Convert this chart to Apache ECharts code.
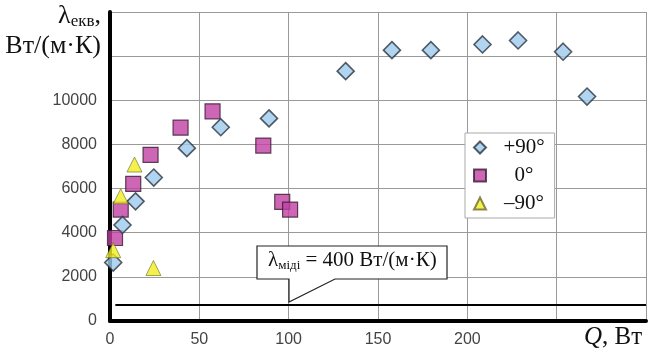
<!DOCTYPE html>
<html>
<head>
<meta charset="utf-8">
<script src="https://cdn.jsdelivr.net/npm/echarts@6/dist/echarts.min.js"></script>
<style>
  html, body { margin: 0; padding: 0; background: #fff; }
  #chart { width: 649px; height: 356px; }
</style>
</head>
<body>
<div id="chart"></div>
<script>
// +90° series (Q, λ)
var plus90 = [
    [1.8, 2650], [7, 4350], [14.3, 5420], [24.5, 6500], [43, 7830],
    [62, 8780], [89, 9180], [131.9, 11320], [157.8, 12270], [179.6, 12270],
    [208.5, 12530], [228.4, 12710], [253.6, 12200], [267, 10170]
];
// 0° series
var zero = [
    [2.8, 3760], [6, 5050], [13, 6210], [22.7, 7530], [39.5, 8760],
    [57.4, 9500], [85.8, 7950], [96.4, 5400], [100.8, 5050]
];
// -90° series
var minus90 = [
    [1.8, 3210], [6, 5650], [13.7, 7090], [24.3, 2400]
];
var seriesNames = ['+90°', '0°', '–90°'];
var copperLine = 720;
var xTickLabels = [0, 50, 100, 150, 200];
var yTickLabels = [0, 2000, 4000, 6000, 8000, 10000];

var chart = echarts.init(document.getElementById('chart'));

var serif = 'Liberation Serif';
var sans = 'Liberation Sans';

var option = {
    animation: false,
    grid: {
        left: 110,
        right: 1,
        top: 12,
        bottom: 35
    },
    legend: {
        orient: 'vertical',
        left: 465,
        top: 133,
        width: 108,
        padding: [4, 10, 4, 8],
        itemGap: 7,
        itemWidth: 12,
        itemHeight: 12,
        backgroundColor: '#fff',
        borderColor: '#aaa',
        borderWidth: 1,
        data: seriesNames,
        formatter: function (name) { return '{a|' + name + '}'; },
        textStyle: {
            rich: {
                a: { fontFamily: serif, fontSize: 21, color: '#111', width: 66, align: 'center' }
            }
        }
    },
    xAxis: {
        type: 'value',
        min: 0,
        max: 300,
        interval: 50,
        axisLine: { lineStyle: { color: '#000', width: 4 } },
        axisTick: { show: false },
        axisLabel: {
            fontFamily: sans,
            fontSize: 16,
            color: '#444',
            margin: 11,
            formatter: function (v) { return xTickLabels.indexOf(v) >= 0 ? String(v) : ''; }
        },
        splitLine: { show: true, lineStyle: { color: '#9a9a9a', width: 1 } }
    },
    yAxis: {
        type: 'value',
        min: 0,
        max: 14000,
        interval: 2000,
        axisLine: { show: true, lineStyle: { color: '#000', width: 4 } },
        axisTick: { show: false },
        axisLabel: {
            fontFamily: sans,
            fontSize: 16,
            color: '#444',
            margin: 13,
            formatter: function (v) { return yTickLabels.indexOf(v) >= 0 ? String(v) : ''; }
        },
        splitLine: { show: true, lineStyle: { color: '#9a9a9a', width: 1 } }
    },
    series: [
        {
            name: seriesNames[0],
            type: 'scatter',
            data: plus90,
            symbol: 'diamond',
            symbolSize: 17,
            z: 3,
            itemStyle: { color: '#9ecaee', borderColor: '#2a3440', borderWidth: 1.6 },
            markLine: {
                silent: true,
                symbol: 'none',
                label: { show: false },
                lineStyle: { color: '#000', width: 2, type: 'solid' },
                data: [[{ coord: [3, copperLine] }, { coord: [300, copperLine] }]]
            }
        },
        {
            name: seriesNames[1],
            type: 'scatter',
            data: zero,
            symbol: 'rect',
            symbolSize: 15,
            z: 2,
            itemStyle: { color: '#c040a2', borderColor: '#3a1a34', borderWidth: 1.2 }
        },
        {
            name: seriesNames[2],
            type: 'scatter',
            data: minus90,
            symbol: 'triangle',
            symbolSize: 15,
            z: 4,
            itemStyle: { color: '#f2ee1e', borderColor: '#6a6a30', borderWidth: 0.8 }
        }
    ],
    graphic: [
        {
            type: 'polygon',
            shape: {
                points: [[257, 246], [447, 246], [447, 279], [335, 279], [289, 302], [289, 279], [257, 279]]
            },
            style: { fill: '#fff', stroke: '#222', lineWidth: 1.2 },
            z: 10
        },
        {
            type: 'text',
            left: 268,
            top: 250,
            z: 11,
            style: {
                text: '{l|λ}{s|міді}{l| = 400 Вт/(м·К)}',
                rich: {
                    l: { fontFamily: serif, fontSize: 21, fill: '#111' },
                    s: { fontFamily: serif, fontSize: 13, fill: '#111', padding: [10, 0, 0, 0] }
                }
            }
        },
        {
            type: 'text',
            right: 548,
            top: 3,
            style: {
                text: '{l|λ}{s|екв}{l|,}',
                align: 'right',
                rich: {
                    l: { fontFamily: serif, fontSize: 26, fill: '#111' },
                    s: { fontFamily: serif, fontSize: 17, fill: '#111', padding: [11, 0, 0, 0] }
                }
            }
        },
        {
            type: 'text',
            right: 548,
            top: 33,
            style: {
                text: 'Вт/(м·К)',
                fontFamily: serif,
                fontSize: 26,
                fill: '#111'
            }
        },
        {
            type: 'text',
            left: 584,
            top: 325,
            style: {
                text: '{q|Q}{l|, Вт}',
                rich: {
                    q: { fontFamily: serif, fontStyle: 'italic', fontSize: 25, fill: '#111' },
                    l: { fontFamily: serif, fontSize: 25, fill: '#111' }
                }
            }
        }
    ]
};

chart.setOption(option);
</script>
</body>
</html>
